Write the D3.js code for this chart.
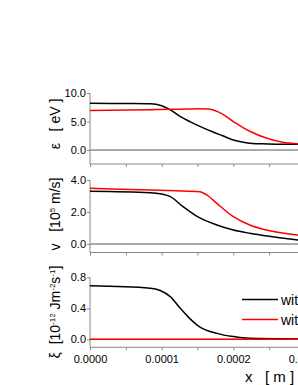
<!DOCTYPE html>
<html>
<head>
<meta charset="utf-8">
<script src="https://cdn.jsdelivr.net/npm/d3@7"></script>
<style>
  body { margin: 0; background: #fff; }
  svg { display: block; font-family: "Liberation Sans", Arial, sans-serif; }
  svg text { white-space: pre; }
</style>
</head>
<body>
<svg id="chart" width="298" height="385"></svg>
<script>
// x positions in units of 1e-4 m
const xEpsBlack = [0, 0.5, 0.84, 1.0, 1.12, 1.25, 1.4, 1.55, 1.7, 1.85, 2.0, 2.2, 2.4, 2.6, 2.9, 3.2];
const epsBlack  = [8.2, 8.15, 8.1, 7.75, 7.05, 5.95, 4.95, 4.05, 3.25, 2.5, 1.75, 1.25, 1.08, 1.02, 1.0, 1.0];
const xEpsRed   = [0, 0.5, 0.84, 1.2, 1.5, 1.65, 1.75, 1.85, 2.0, 2.23, 2.46, 2.69, 2.9, 3.2];
const epsRed    = [6.95, 7.0, 7.07, 7.15, 7.25, 7.2, 6.9, 6.3, 5.0, 3.3, 2.1, 1.35, 1.1, 1.0];

const xVBlack = [0, 0.84, 1.0, 1.12, 1.3, 1.5, 1.77, 2.0, 2.23, 2.5, 2.9, 3.2];
const vBlack  = [3.29, 3.21, 3.12, 2.96, 2.33, 1.71, 1.19, 0.875, 0.67, 0.48, 0.25, 0.15];
const xVRed   = [0, 0.84, 1.2, 1.53, 1.65, 1.77, 2.0, 2.23, 2.46, 2.9, 3.2];
const vRed    = [3.48, 3.375, 3.33, 3.27, 3.0, 2.54, 1.71, 1.19, 0.875, 0.56, 0.45];

const xXiBlack = [0, 0.84, 0.98, 1.12, 1.26, 1.39, 1.53, 1.77, 2.0, 2.23, 2.9, 3.2];
const xiBlack  = [0.69, 0.66, 0.63, 0.55, 0.40, 0.27, 0.16, 0.077, 0.035, 0.013, 0.005, 0.004];
const xXiRed   = [0, 1.0, 2.0, 3.2];
const xiRed    = [0, 0, 0, 0];

const xTicks = [0, 1e-4, 2e-4, 3e-4];
const legendLabels = ["with heating", "without heating"];

const svg = d3.select("#chart");
const x = d3.scaleLinear().domain([0, 3e-4]).range([90, 305]);

const panels = [
  { top: 93, bottom: 164, domain: [-2.45, 10], ticks: [0, 5, 10], fmt: d3.format(".1f"),
    series: [[xEpsBlack, epsBlack, "#000"], [xEpsRed, epsRed, "#f00"]] },
  { top: 180, bottom: 252.5, domain: [-0.53, 4], ticks: [0, 2, 4], fmt: d3.format(".1f"),
    series: [[xVBlack, vBlack, "#000"], [xVRed, vRed, "#f00"]] },
  { top: 277.3, bottom: 347.3, domain: [-0.103, 0.8], ticks: [0, 0.4, 0.8], fmt: d3.format(".1f"),
    series: [[xXiBlack, xiBlack, "#000"], [xXiRed, xiRed, "#f00"]] }
];

panels.forEach((p, i) => {
  const y = d3.scaleLinear().domain(p.domain).range([p.bottom, p.top]);
  const g = svg.append("g");

  // zero line
  g.append("line").attr("x1", x(0)).attr("x2", 310)
    .attr("y1", y(0)).attr("y2", y(0))
    .attr("stroke", "#555").attr("stroke-width", 1);

  // y axis
  const ya = g.append("g").attr("transform", `translate(${x(0)},0)`)
    .call(d3.axisLeft(y).tickValues(p.ticks).tickFormat(p.fmt).tickSize(3).tickPadding(1));
  ya.select(".domain").attr("stroke", "#888").attr("d", `M0,${p.bottom}V${p.top}`);
  ya.selectAll(".tick line").attr("stroke", "#888");
  ya.selectAll("text").attr("font-size", 11).attr("fill", "#000")
    .attr("font-family", "Liberation Sans, Arial, sans-serif");

  // x axis
  const xa = g.append("g").attr("transform", `translate(0,${p.bottom})`)
    .call(d3.axisBottom(x).tickValues(d3.range(0, 3.01e-4, 0.5e-4)).tickSize(3)
      .tickFormat(i === 2 ? (d => xTicks.some(t => Math.abs(t - d) < 1e-9) ? d3.format(".4f")(d) : "") : ""));
  xa.select(".domain").attr("stroke", "#888").attr("d", `M${x(0)},0H310`);
  xa.selectAll(".tick line").attr("stroke", "#888");
  xa.selectAll("text").attr("font-size", 11).attr("fill", "#000").attr("dy", "0.9em")
    .attr("font-family", "Liberation Sans, Arial, sans-serif");

  const line = d3.line().curve(d3.curveMonotoneX)
    .x(d => x(d[0] * 1e-4)).y(d => y(d[1]));
  p.series.forEach(([xs, ys, c]) => {
    g.append("path").datum(xs.map((v, k) => [v, ys[k]]))
      .attr("d", line).attr("fill", "none").attr("stroke", c).attr("stroke-width", 1.5);
  });
});

// y labels
function ylabel(cx, cy, parts) {
  const t = svg.append("text").attr("transform", `translate(${cx},${cy}) rotate(-90)`)
    .attr("text-anchor", "middle").attr("font-size", 14);
  parts.forEach(([s, sup]) => {
    const ts = t.append("tspan").text(s);
    if (sup === 1) ts.attr("font-size", 8).attr("baseline-shift", "65%");
  });
}
ylabel(60, 124, [["\u03b5\u00a0\u00a0\u00a0[\u00a0eV\u00a0]"]]);
ylabel(60, 214, [["v\u00a0\u00a0\u00a0[10"], ["5", 1], ["\u00a0m/s]"]]);
ylabel(60, 312, [["\u03be\u00a0\u00a0[10"], ["-12", 1], ["\u00a0Jm"], ["-2", 1], ["s"], ["-1", 1], ["]"]]);

// x label
svg.append("text").attr("x", 245).attr("y", 382).attr("font-size", 15)
  .text("x\u00a0\u00a0\u00a0[\u00a0m\u00a0]");

// legend
legendLabels.forEach((lab, k) => {
  const ly = 299.5 + k * 20;
  svg.append("line").attr("x1", 242).attr("x2", 278).attr("y1", ly).attr("y2", ly)
    .attr("stroke", k === 0 ? "#000" : "#f00").attr("stroke-width", 1.5);
  svg.append("text").attr("x", 281).attr("y", ly + 5).attr("font-size", 14).text(lab);
});
</script>
</body>
</html>
